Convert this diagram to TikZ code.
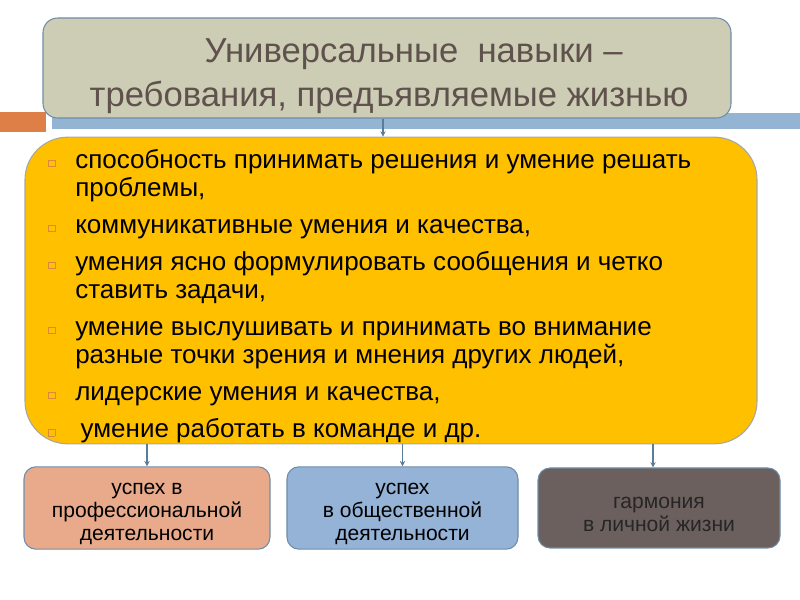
\documentclass[tikz,border=0pt]{standalone}
\usepackage{fontspec}
\setmainfont{Liberation Sans}
\usetikzlibrary{arrows.meta}
\definecolor{barorange}{HTML}{DF7F48}
\definecolor{barblue}{HTML}{94B4D4}
\definecolor{titlefill}{HTML}{CDCDB6}
\definecolor{titletext}{HTML}{5F514B}
\definecolor{boxline}{HTML}{6F8DA8}
\definecolor{cardyellow}{HTML}{FFC000}
\definecolor{bulorange}{HTML}{D9893F}
\definecolor{linkblue}{HTML}{5B7C99}
\definecolor{peach}{HTML}{E8AA8A}
\definecolor{skyblue}{HTML}{95B3D7}
\definecolor{greybrown}{HTML}{6B605E}
\newcommand\sqbul{\leavevmode\llap{\raisebox{1.5pt}{\textcolor{bulorange}{\setlength\fboxsep{0pt}\setlength\fboxrule{0.5pt}\fbox{\rule{0pt}{4.5pt}\rule{4.5pt}{0pt}}}}\hspace{15pt}}}
\newcommand\lift{\rule{0pt}{17.5pt}}
\begin{document}
\begin{tikzpicture}[x=0.75pt,y=0.75pt,
  link/.style={draw=linkblue, line width=1.2pt, -{Stealth[length=4pt,width=4pt]}},
  goal/.style={draw=boxline, line width=0.8pt, rounded corners=9pt, minimum height=60pt,
    align=center, font=\fontsize{15.8}{17.25}\selectfont}]
\useasboundingbox (0,0) rectangle (800,600);
% decorative bars
\fill[barorange] (0,468) rectangle (46,488);
\fill[barblue] (52,471) rectangle (800,487);
% heading
\node[draw=boxline, line width=0.8pt, fill=titlefill, rounded corners=11pt, minimum width=516pt, minimum height=75pt] (title) at (387,532) {};
\node[text=titletext, align=center, font=\fontsize{26}{33}\selectfont, anchor=base] (titletext) at (389,493) {\hspace*{37pt}Универсальные\ \ навыки –\\требования, предъявляемые жизнью};
% skills
\node[draw=gray!70, line width=0.8pt, fill=cardyellow, rounded corners=32pt, minimum width=549pt, minimum height=230pt] (card) at (391,309.5) {};
\node[anchor=north west, align=left, inner sep=0pt, font=\fontsize{19.5}{20.8}\selectfont] (items) at (75,451) {%
\sqbul способность принимать решения и умение решать\\
проблемы,\\[7.1pt]
\sqbul коммуникативные умения и качества,\\[7.1pt]
\sqbul умения ясно формулировать сообщения и четко\\
ставить задачи,\\[7.1pt]
\sqbul умение выслушивать и принимать во внимание\\
разные точки зрения и мнения других людей,\\[7.1pt]
\sqbul лидерские умения и качества,\\[7.1pt]
\sqbul\hspace*{4pt}умение работать в команде и др.};
% outcomes
\node[goal, fill=peach, minimum width=184.5pt] (work) at (147,92) {\lift успех в\\профессиональной\\деятельности};
\node[goal, fill=skyblue, minimum width=173.25pt] (society) at (402.5,92) {\lift успех\\в общественной\\деятельности};
\node[goal, fill=greybrown, text=black!85, minimum width=181.5pt] (life) at (659,92) {\lift гармония\\в личной жизни};
\draw[link] (title.south -| 383,0) -- (card.north -| 383,0);
\draw[link] (card.south -| work.north) -- (work.north);
\draw[link] (card.south -| society.north) -- (society.north);
\draw[link] (card.south -| 653,0) -- (life.north -| 653,0);
\end{tikzpicture}
\end{document}
